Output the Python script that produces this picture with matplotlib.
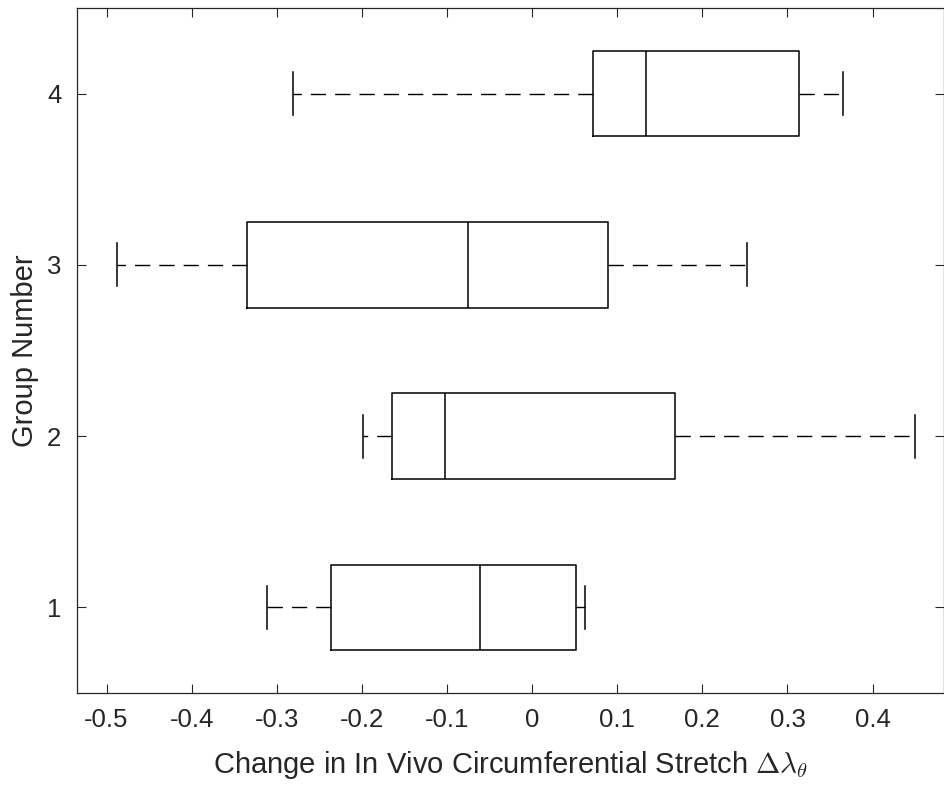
import matplotlib
matplotlib.use("Agg")
import matplotlib.pyplot as plt

plt.rcParams['font.family'] = ['Liberation Sans', 'DejaVu Sans']
plt.rcParams['mathtext.fontset'] = 'cm'

# Box statistics
groups = [1, 2, 3, 4]
whislo = [-0.311, -0.1985, -0.488, -0.2815]
q1 = [-0.2357, -0.1647, -0.3346, 0.0718]
med = [-0.0612, -0.102, -0.0753, 0.134]
q3 = [0.0518, 0.1678, 0.0886, 0.313]
whishi = [0.0627, 0.4498, 0.2521, 0.3655]

xticks = [-0.5, -0.4, -0.3, -0.2, -0.1, 0, 0.1, 0.2, 0.3, 0.4]
xticklabels = ['-0.5', '-0.4', '-0.3', '-0.2', '-0.1', '0', '0.1', '0.2', '0.3', '0.4']

stats = []
for i in range(len(groups)):
    stats.append({'whislo': whislo[i], 'q1': q1[i], 'med': med[i],
                  'q3': q3[i], 'whishi': whishi[i], 'fliers': []})

axc = (0.15, 0.15, 0.15)
fig = plt.figure(figsize=(9.45, 7.9), dpi=100)
ax = fig.add_axes([0.0812, 0.1228, 0.9178, 0.8671])

ax.bxp(stats, positions=groups, widths=0.5, capwidths=0.25,
       orientation='horizontal', showfliers=False,
       boxprops=dict(color='black', linewidth=1.1),
       medianprops=dict(color='black', linewidth=1.1),
       whiskerprops=dict(color='black', linewidth=1.0, linestyle=(0, (11, 6.5))),
       capprops=dict(color='black', linewidth=1.1))

ax.set_xlim(-0.535, 0.484)
ax.set_ylim(0.5, 4.5)
ax.set_xticks(xticks)
ax.set_xticklabels(xticklabels)
ax.set_yticks(groups)
ax.set_yticklabels([str(g) for g in groups])

ax.tick_params(direction='in', length=6.5, width=0.8, colors=axc,
               labelsize=18.5, top=True, right=True, pad=11)
for sp in ax.spines.values():
    sp.set_color(axc)
    sp.set_linewidth(0.9)

ax.set_xlabel(r'Change in In Vivo Circumferential Stretch $\Delta\lambda_{\theta}$',
              fontsize=21, color=axc, labelpad=12)
ax.set_ylabel('Group Number', fontsize=21, color=axc, labelpad=6)

fig.savefig('out.png', dpi=100)
